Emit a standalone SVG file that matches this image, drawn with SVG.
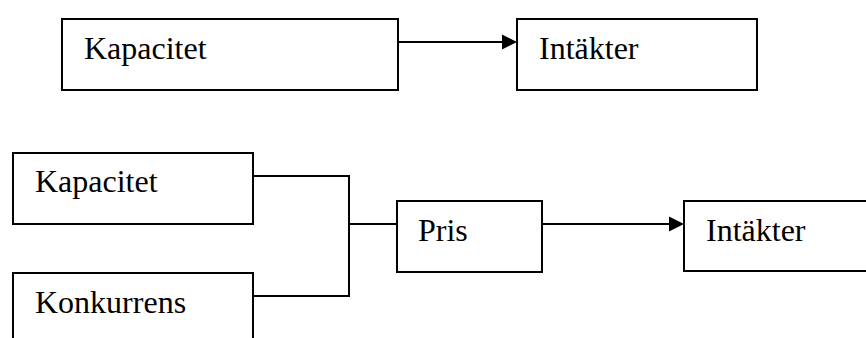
<svg xmlns="http://www.w3.org/2000/svg" width="866" height="338" viewBox="0 0 866 338">
  <style>
    .box { fill: #ffffff; stroke: #000000; stroke-width: 2; }
    .lbl { font-family: 'Liberation Serif', 'Times New Roman', Times, serif; font-size: 32px; fill: #000000; }
    .wire { fill: none; stroke: #000000; stroke-width: 2; }
    .head { fill: #000000; stroke: none; }
  </style>

  <!-- upper chain -->
  <g id="kapacitet-top">
    <rect class="box" x="62" y="19" width="336" height="71"/>
    <text class="lbl" x="84" y="59">Kapacitet</text>
  </g>
  <g id="intakter-top">
    <rect class="box" x="517" y="19" width="240" height="71"/>
    <text class="lbl" x="539" y="59">Intäkter</text>
  </g>

  <!-- lower chain -->
  <g id="kapacitet-bottom">
    <rect class="box" x="13" y="153" width="240" height="71"/>
    <text class="lbl" x="35" y="192">Kapacitet</text>
  </g>
  <g id="konkurrens">
    <rect class="box" x="13" y="273" width="240" height="80"/>
    <text class="lbl" x="35" y="313">Konkurrens</text>
  </g>
  <g id="pris">
    <rect class="box" x="397" y="201" width="145" height="71"/>
    <text class="lbl" x="418" y="241">Pris</text>
  </g>
  <g id="intakter-bottom">
    <rect class="box" x="684" y="201" width="200" height="70"/>
    <text class="lbl" x="706" y="241">Intäkter</text>
  </g>

  <g id="connectors">
    <line class="wire" x1="398" y1="42" x2="503" y2="42"/>
    <path class="head" d="M502,34.5 L517,42 L502,49.5 Z"/>
    <polyline class="wire" points="253,176 349,176 349,296 253,296"/>
    <line class="wire" x1="349" y1="224" x2="397" y2="224"/>
    <line class="wire" x1="542" y1="224" x2="670" y2="224"/>
    <path class="head" d="M669,216.5 L684,224 L669,231.5 Z"/>
  </g>
</svg>
